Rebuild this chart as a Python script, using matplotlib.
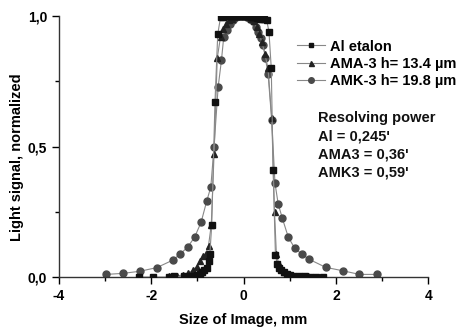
import matplotlib
matplotlib.use("Agg")
import matplotlib.pyplot as plt
from matplotlib.ticker import FixedLocator, FuncFormatter

plt.rcParams["font.family"] = ["Liberation Sans", "DejaVu Sans"]
plt.rcParams["font.weight"] = "bold"

# Al etalon (squares)
al_x = [-2.27, -1.96, -1.62, -1.50, -1.30, -1.15, -1.02, -0.95, -0.90, -0.85,
        -0.80, -0.76, -0.73, -0.69, -0.62, -0.56, -0.50, -0.45, -0.40, -0.35,
        -0.30, -0.25, -0.20, -0.15, -0.10, -0.05, 0.00, 0.05, 0.10, 0.15,
        0.20, 0.25, 0.30, 0.35, 0.40, 0.45, 0.50, 0.55, 0.60, 0.64,
        0.69, 0.73, 0.77, 0.82, 0.87, 0.93, 1.00, 1.08, 1.20, 1.32,
        1.44, 1.57, 1.72]
al_y = [0.0, 0.0, 0.0, 0.002, 0.003, 0.005, 0.008, 0.012, 0.018, 0.025,
        0.035, 0.06, 0.09, 0.20, 0.67, 0.93, 0.995, 0.998, 1.0, 1.0,
        1.0, 1.0, 1.0, 1.0, 1.0, 1.0, 1.0, 1.0, 1.0, 0.998,
        0.997, 0.995, 0.993, 0.99, 0.99, 0.988, 0.985, 0.94, 0.80, 0.41,
        0.085, 0.05, 0.035, 0.025, 0.018, 0.012, 0.008, 0.005, 0.003, 0.002,
        0.001, 0.0, 0.0]

# AMA-3 h=13.4 um (triangles)
ama_x = [-1.62, -1.45, -1.32, -1.20, -1.10, -1.02, -0.95, -0.88, -0.82, -0.76,
         -0.70, -0.64, -0.57, -0.50, -0.44, -0.38, -0.32, -0.26, -0.20, -0.14,
         -0.08, -0.02, 0.04, 0.10, 0.16, 0.22, 0.28, 0.34, 0.40, 0.46,
         0.53, 0.61, 0.67, 0.71, 0.76, 0.82, 0.88, 0.95, 1.02, 1.12,
         1.25, 1.40, 1.55]
ama_y = [0.002, 0.004, 0.008, 0.015, 0.025, 0.04, 0.06, 0.08, 0.09, 0.12,
         0.20, 0.47, 0.84, 0.92, 0.95, 0.97, 0.985, 0.99, 0.995, 1.0,
         1.0, 1.0, 1.0, 0.995, 0.99, 0.98, 0.96, 0.93, 0.90, 0.855,
         0.80, 0.61, 0.25, 0.09, 0.05, 0.035, 0.02, 0.012, 0.008, 0.005,
         0.003, 0.002, 0.001]

# AMK-3 h=19.8 um (circles)
amk_x = [-2.98, -2.61, -2.25, -1.88, -1.53, -1.38, -1.21, -1.06, -0.92, -0.80,
         -0.71, -0.64, -0.55, -0.48, -0.43, -0.35, -0.29, -0.22, -0.16, -0.10,
         -0.04, 0.02, 0.08, 0.14, 0.20, 0.26, 0.32, 0.38, 0.43, 0.47,
         0.53, 0.61, 0.68, 0.75, 0.84, 0.97, 1.11, 1.26, 1.42, 1.78,
         2.15, 2.51, 2.88]
amk_y = [0.01, 0.014, 0.022, 0.036, 0.065, 0.087, 0.115, 0.153, 0.21, 0.29,
         0.345, 0.50, 0.73, 0.83, 0.92, 0.946, 0.97, 0.985, 0.995, 1.0,
         1.0, 1.0, 0.995, 0.99, 0.98, 0.96, 0.94, 0.915, 0.89, 0.84,
         0.78, 0.60, 0.36, 0.28, 0.225, 0.152, 0.11, 0.088, 0.068, 0.037,
         0.024, 0.01, 0.01]

annot_lines = ["Resolving power", "Al = 0,245'", "AMA3 = 0,36'", "AMK3 = 0,59'"]

fig = plt.figure(figsize=(4.57, 3.29), dpi=100)
ax = fig.add_axes([0.129, 0.158, 0.808, 0.793])

line_kw = dict(lw=0.8, color="#888888")
ax.plot(al_x, al_y, marker="s", ms=4.2, mfc="#111111", mec="#111111",
        label="Al etalon", zorder=4, **line_kw)
ax.plot(ama_x, ama_y, marker="^", ms=4.5, mfc="#222222", mec="#222222",
        label="AMA-3 h= 13.4 µm", zorder=3, **line_kw)
ax.plot(amk_x, amk_y, marker="o", ms=5.0, mfc="#4a4a4a", mec="#4a4a4a",
        label="AMK-3 h= 19.8 µm", zorder=2, **line_kw)

ax.set_xlim(-4, 4)
ax.set_ylim(0, 1.0)
ax.spines[["top", "right"]].set_visible(False)
ax.spines[["left", "bottom"]].set_linewidth(1.0)
ax.spines[["left", "bottom"]].set_color("#333333")

ax.xaxis.set_major_locator(FixedLocator([-4, -2, 0, 2, 4]))
ax.xaxis.set_minor_locator(FixedLocator([-3, -1, 1, 3]))
ax.yaxis.set_major_locator(FixedLocator([0, 0.5, 1.0]))
ax.yaxis.set_minor_locator(FixedLocator([0.25, 0.75]))
ax.xaxis.set_major_formatter(FuncFormatter(lambda v, p: f"{v:g}"))
ax.yaxis.set_major_formatter(FuncFormatter(lambda v, p: f"{v:.1f}".replace(".", ",")))
ax.tick_params(which="major", direction="out", length=5, width=1, labelsize=10)
ax.tick_params(which="minor", direction="out", length=3, width=1)
for lab in ax.get_xticklabels() + ax.get_yticklabels():
    lab.set_fontweight("bold")

ax.set_xlabel("Size of Image, mm", fontsize=10.5, fontweight="bold", labelpad=7)
ax.set_ylabel("Light signal, normalized", fontsize=10.5, fontweight="bold")
ax.yaxis.set_label_coords(-0.095, 0.46)

leg = ax.legend(loc="upper left", bbox_to_anchor=(0.645, 0.91), frameon=False,
                fontsize=10.5, handlelength=1.9, handletextpad=0.35,
                labelspacing=0.22, borderaxespad=0, borderpad=0, markerscale=0.8)
for t in leg.get_texts():
    t.set_fontweight("bold")

for i, s in enumerate(annot_lines):
    ax.text(0.702, 0.609 - i * 0.07, s, transform=ax.transAxes, fontsize=10.5,
            fontweight="bold", va="center", ha="left", color="#111111")

fig.savefig("out.png", dpi=100)
